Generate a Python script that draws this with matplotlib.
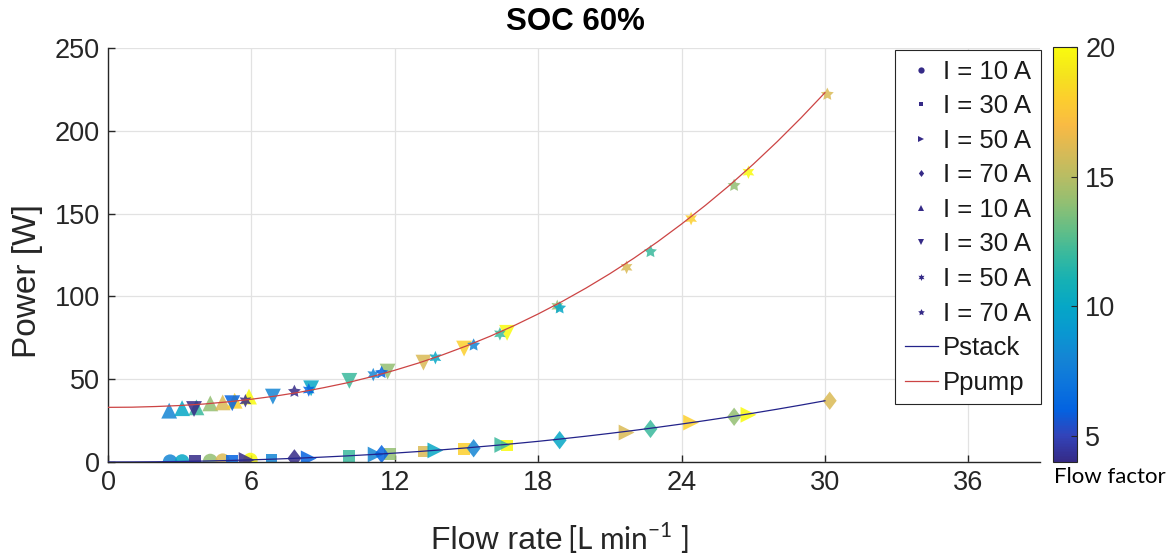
import matplotlib
matplotlib.use('Agg')
import matplotlib.pyplot as plt
from matplotlib.colors import LinearSegmentedColormap, Normalize
from matplotlib.cm import ScalarMappable
from matplotlib.lines import Line2D

plt.rcParams['font.family'] = ['Liberation Sans', 'DejaVu Sans']

# parula-like colour map (MATLAB default)
parula_pts = [
    (0.2081, 0.1663, 0.5292), (0.1959, 0.2645, 0.7279), (0.0117, 0.3875, 0.8820),
    (0.0498, 0.4586, 0.8641), (0.0793, 0.5200, 0.8312), (0.0343, 0.5966, 0.8199),
    (0.0228, 0.6535, 0.7768), (0.0843, 0.6928, 0.7062), (0.2178, 0.7250, 0.6193),
    (0.3953, 0.7459, 0.5244), (0.5709, 0.7485, 0.4494), (0.7184, 0.7411, 0.3905),
    (0.8507, 0.7299, 0.3360), (0.9739, 0.7314, 0.2666), (0.9880, 0.8066, 0.1794),
    (0.9589, 0.8949, 0.1132), (0.9763, 0.9831, 0.0538),
]
parula = LinearSegmentedColormap.from_list('parula', parula_pts)

# fitted curves (flow rate 0..30 L/min)
curve_q = list(range(0, 31))
pstack_curve = [0.0, 0.04, 0.14, 0.32, 0.57, 0.89, 1.30, 1.77, 2.33, 2.97, 3.68,
                4.48, 5.37, 6.33, 7.39, 8.53, 9.76, 11.08, 12.48, 13.99, 15.58,
                17.28, 19.06, 20.95, 22.93, 25.02, 27.20, 29.49, 31.88, 34.38, 36.98]
ppump_curve = [33.0, 33.1, 33.5, 34.1, 35.0, 36.3, 37.9, 39.8, 42.1, 44.8, 47.8,
               51.4, 55.4, 59.8, 64.7, 70.1, 76.0, 82.4, 89.4, 96.9, 105.0,
               113.7, 123.0, 133.0, 143.7, 155.0, 167.0, 179.8, 193.4, 207.8, 223.0]

# stack power points (flow rate, power, flow factor)
st10_q = [2.6, 3.1, 4.28, 4.8, 5.96]
st10_p = [0.2, 0.3, 0.6, 0.8, 1.2]
st10_f = [8, 10, 14, 16, 20]

st30_q = [3.65, 5.2, 6.84, 10.1, 11.8, 13.2, 14.9, 16.7]
st30_p = [0.4, 0.8, 1.5, 3.8, 5.0, 6.3, 7.8, 10.0]
st30_f = [4, 6, 8, 12, 14, 16, 18, 20]

st50_q = [5.8, 8.4, 11.2, 13.7, 16.5, 21.7, 24.4, 26.8]
st50_p = [1.2, 2.2, 4.5, 7.0, 10.3, 17.8, 23.8, 28.5]
st50_f = [4, 6, 8, 10, 12, 16, 18, 20]

st70_q = [7.8, 11.45, 15.3, 18.9, 22.7, 26.2, 30.2]
st70_p = [2.2, 4.8, 8.3, 13.2, 20.0, 27.3, 37.0]
st70_f = [4, 6, 8, 10, 12, 14, 16]

# pump power points
pu10_q = [2.56, 3.1, 3.7, 4.28, 4.8, 5.3, 5.9]
pu10_p = [31.0, 32.5, 33.0, 35.4, 36.0, 37.0, 39.5]
pu10_f = [8, 10, 12, 14, 16, 18, 20]

pu30_q = [3.6, 5.2, 6.9, 8.5, 10.1, 11.7, 13.2, 14.9, 16.7]
pu30_p = [32.0, 35.5, 39.5, 44.5, 49.0, 54.6, 60.0, 68.5, 78.0]
pu30_f = [4, 6, 8, 10, 12, 14, 16, 18, 20]

pu50_q = [5.75, 8.4, 11.1, 13.7, 16.4, 18.8, 21.7, 24.4, 26.8]
pu50_p = [37.0, 43.5, 52.8, 63.0, 77.4, 94.0, 117.6, 147.0, 175.0]
pu50_f = [4, 6, 8, 10, 12, 14, 16, 18, 20]

pu70_q = [7.8, 11.45, 15.3, 18.9, 22.7, 26.2, 30.1]
pu70_p = [42.6, 54.0, 70.6, 93.0, 127.0, 167.0, 222.0]
pu70_f = [4, 6, 8, 10, 12, 14, 16]

legend_labels = ['I = 10 A', 'I = 30 A', 'I = 50 A', 'I = 70 A',
                 'I = 10 A', 'I = 30 A', 'I = 50 A', 'I = 70 A', 'Pstack', 'Ppump']

diamond = [(0, 1), (0.76, 0), (0, -1), (-0.76, 0)]
hexagram = (6, 1, 0)
pentagram = (5, 1, 0)

fig = plt.figure(figsize=(11.75, 5.6), dpi=100)
ax = fig.add_axes([108 / 1175, 98 / 560, 932 / 1175, 414 / 560])
norm = Normalize(vmin=4, vmax=20)

groups = [
    (st10_q, st10_p, st10_f, 'o', 110),
    (st30_q, st30_p, st30_f, 's', 72),
    (st50_q, st50_p, st50_f, '>', 130),
    (st70_q, st70_p, st70_f, diamond, 175),
    (pu10_q, pu10_p, pu10_f, '^', 130),
    (pu30_q, pu30_p, pu30_f, 'v', 130),
    (pu50_q, pu50_p, pu50_f, hexagram, 95),
    (pu70_q, pu70_p, pu70_f, pentagram, 95),
]
for q, p, f, m, s in groups:
    ax.scatter(q, p, c=f, cmap=parula, norm=norm, marker=m, s=s,
               alpha=0.85, linewidths=0, zorder=2)

ax.plot(curve_q, pstack_curve, color='#23238a', lw=0.9, zorder=3)
ax.plot(curve_q, ppump_curve, color='#cc4444', lw=0.9, zorder=3)

ax.set_xlim(0, 39)
ax.set_ylim(0, 250)
ax.set_xticks([0, 6, 12, 18, 24, 30, 36])
ax.set_yticks([0, 50, 100, 150, 200, 250])
ax.grid(True, color='#e2e2e2', lw=0.9)
ax.set_axisbelow(True)
for side in ['top', 'right']:
    ax.spines[side].set_visible(False)
for side in ['left', 'bottom']:
    ax.spines[side].set_color('#262626')
    ax.spines[side].set_linewidth(1.0)
ax.tick_params(direction='in', length=5, width=1, colors='#262626',
               labelsize=19.5, labelcolor='#262626', pad=6)

ax.set_ylabel('Power [W]', fontsize=24, color='#262626')
ax.yaxis.set_label_coords(-0.070, 0.438)
fig.text(497 / 1175, 1 - 541 / 560, 'Flow rate', fontsize=23, color='#262626',
         ha='center', va='center')
fig.text(567 / 1175, 1 - 538 / 560, r'[L min$^{\mathregular{-1}}$ ]', fontsize=21.5,
         color='#262626', ha='left', va='center', family=['Lato', 'DejaVu Sans'])
fig.text(575 / 1175, 1 - 22 / 560, 'SOC 60%', fontsize=22.5, fontweight='bold',
         ha='center', va='center')

# legend
leg_col = parula_pts[0]
handles = [
    Line2D([], [], ls='none', marker='o', ms=4.5, color=leg_col, mew=0),
    Line2D([], [], ls='none', marker='s', ms=3.5, color=leg_col, mew=0),
    Line2D([], [], ls='none', marker='>', ms=4.5, color=leg_col, mew=0),
    Line2D([], [], ls='none', marker=diamond, ms=5, color=leg_col, mew=0),
    Line2D([], [], ls='none', marker='^', ms=4.5, color=leg_col, mew=0),
    Line2D([], [], ls='none', marker='v', ms=4.5, color=leg_col, mew=0),
    Line2D([], [], ls='none', marker=hexagram, ms=5, color=leg_col, mew=0),
    Line2D([], [], ls='none', marker=pentagram, ms=5, color=leg_col, mew=0),
    Line2D([], [], color='#23238a', lw=0.9),
    Line2D([], [], color='#cc4444', lw=0.9),
]
leg = ax.legend(handles, legend_labels, loc='upper right',
                bbox_to_anchor=(1041 / 1175, 1 - 50 / 560),
                bbox_transform=fig.transFigure, borderaxespad=0,
                fontsize=18.5, fancybox=False, framealpha=1, edgecolor='#262626',
                handlelength=1.3, handletextpad=0.2, labelspacing=0.41,
                borderpad=0.38)
leg.get_frame().set_linewidth(0.8)
for t in leg.get_texts():
    t.set_color('#1a1a1a')

# colorbar
cax = fig.add_axes([1053 / 1175, 98 / 560, 24 / 1175, 415 / 560])
cb = fig.colorbar(ScalarMappable(norm=norm, cmap=parula), cax=cax)
cb.set_ticks([5, 10, 15, 20])
cb.outline.set_edgecolor('#262626')
cb.outline.set_linewidth(0.8)
cax.tick_params(direction='in', length=4, width=0.8, colors='#262626',
                labelsize=19.5, labelcolor='#262626', pad=6)
fig.text(1110 / 1175, 1 - 477 / 560, 'Flow factor', fontsize=16,
         ha='center', va='center', family=['Lato', 'DejaVu Sans'])

fig.savefig('out.png', dpi=100)
